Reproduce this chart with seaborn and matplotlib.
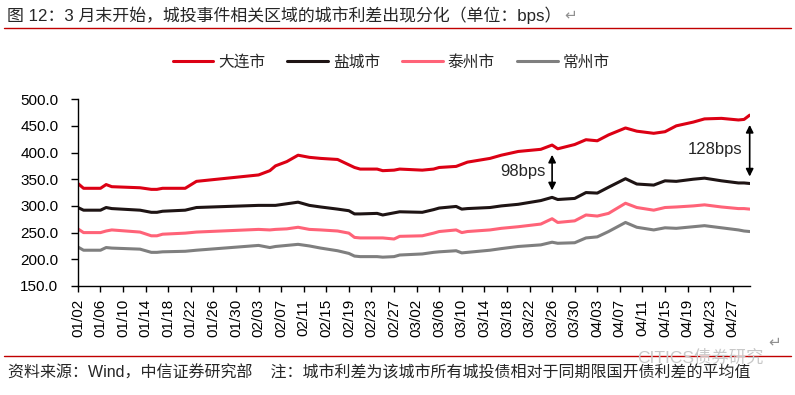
"""城投事件相关区域城市利差走势图"""

import pandas as pd
import matplotlib
matplotlib.use("Agg")
import matplotlib.pyplot as plt
from matplotlib.lines import Line2D
from matplotlib.ticker import FormatStrFormatter
import seaborn as sns

YEAR = "2020"
dates = ["01/02", "01/03", "01/06", "01/07", "01/08", "01/13", "01/15", "01/16", "01/17", "01/21", "01/23",
         "02/03", "02/05", "02/06", "02/08", "02/10", "02/12", "02/14", "02/17", "02/19", "02/20", "02/21",
         "02/24", "02/25", "02/27", "02/28",
         "03/03", "03/05", "03/06", "03/09", "03/10", "03/11", "03/15", "03/17", "03/20", "03/24", "03/26",
         "03/27", "03/30",
         "04/01", "04/03", "04/05", "04/08", "04/10", "04/13", "04/15", "04/17", "04/20", "04/22", "04/25",
         "04/28", "04/29", "04/30"]
dalian = [342, 333, 333, 340, 336, 334, 331, 331, 333, 333, 346,
          358, 366, 375, 383, 395, 391, 389, 387, 377, 372, 369, 369, 366, 367, 369,
          367, 369, 372, 374, 378, 382, 389, 395, 402, 406, 414, 407, 415,
          424, 422, 433, 446, 440, 436, 439, 450, 457, 463, 464, 461, 462, 470]
yancheng = [297, 292, 292, 297, 295, 292, 288, 288, 290, 292, 297,
            301, 301, 301, 304, 307, 301, 298, 294, 291, 285, 285, 286, 283, 287, 289,
            288, 293, 296, 299, 294, 295, 297, 300, 303, 310, 316, 312, 314,
            325, 324, 335, 351, 341, 339, 347, 346, 350, 352, 347, 343, 343, 342]
taizhou = [257, 250, 250, 253, 255, 251, 244, 244, 247, 249, 251,
           256, 255, 256, 257, 260, 256, 255, 253, 249, 241, 240, 240, 240, 238, 243,
           244, 249, 252, 255, 250, 252, 255, 258, 261, 266, 276, 269, 272,
           283, 281, 286, 305, 297, 292, 297, 298, 300, 302, 298, 295, 295, 294]
changzhou = [223, 217, 217, 222, 221, 219, 213, 213, 214, 215, 217,
             226, 222, 224, 226, 228, 225, 221, 216, 211, 206, 205, 205, 204, 205, 208,
             210, 213, 214, 216, 212, 213, 217, 220, 224, 227, 232, 230, 231,
             240, 242, 252, 269, 260, 255, 259, 258, 261, 263, 259, 255, 253, 252]

CITIES = ["大连市", "盐城市", "泰州市", "常州市"]
COLORS = ["#DC0014", "#1E1414", "#FF6378", "#7F7F7F"]
gap_dates = ["03/26", "04/30"]

TITLE = "图 12：3 月末开始，城投事件相关区域的城市利差出现分化（单位：bps）"
NOTE = "资料来源：Wind，中信证券研究部    注：城市利差为该城市所有城投债相对于同期限国开债利差的平均值"
RED = "#C00000"

sns.set_theme(style="white")
plt.rcParams["font.family"] = ["Liberation Sans", "Noto Sans CJK SC", "DejaVu Sans"]

x = pd.to_datetime([f"{YEAR}/{d}" for d in dates])
df = pd.DataFrame({"date": x, "大连市": dalian, "盐城市": yancheng, "泰州市": taizhou, "常州市": changzhou})
long = df.melt(id_vars="date", var_name="city", value_name="spread")

fig = plt.figure(figsize=(7.95, 3.95), dpi=100)
ax = fig.add_axes([0.098, 0.276, 0.845, 0.473])
sns.lineplot(data=long, x="date", y="spread", hue="city", hue_order=CITIES,
             palette=COLORS, lw=2.2, ax=ax, legend=False)

# 坐标轴
ax.set_ylim(150, 500)
ax.set_yticks(range(150, 501, 50))
ax.yaxis.set_major_formatter(FormatStrFormatter("%.1f"))
ax.set_xlim(x[0], x[-1])
xt = pd.date_range(x[0], x[-1], freq="4D")
ax.set_xticks(xt)
ax.set_xticklabels([d.strftime("%m/%d") for d in xt], rotation=90)
ax.set_xlabel("")
ax.set_ylabel("")
sns.despine(ax=ax)
for s in ["left", "bottom"]:
    ax.spines[s].set_color("black")
    ax.spines[s].set_linewidth(1)
ax.tick_params(axis="x", bottom=True, direction="out", length=4, width=1, color="black",
               labelsize=11, pad=5, labelcolor="black")
ax.tick_params(axis="y", left=True, direction="out", length=5, width=1, color="black",
               labelsize=11, pad=9, labelcolor="black")
ax.grid(False)

# 利差标注
for d in gap_dates:
    i = dates.index(d)
    hi, lo = dalian[i], yancheng[i]
    ax.annotate("", xy=(x[i], hi), xytext=(x[i], lo), annotation_clip=False,
                arrowprops=dict(arrowstyle="<|-|>", color="black", lw=1.2,
                                shrinkA=5, shrinkB=7, mutation_scale=11))
    ax.annotate(f"{hi - lo}bps", xy=(x[i], (hi + lo) / 2), xytext=(-5, 0),
                textcoords="offset points", ha="right", va="center", fontsize=12,
                annotation_clip=False)

# 图例
handles = [Line2D([], [], color=c, lw=2.2) for c in COLORS]
fig.legend(handles, CITIES, loc="center", bbox_to_anchor=(391 / 795, 1 - 62 / 395), ncol=4,
           frameon=False, fontsize=11.3, handlelength=2.6, handletextpad=0.3, columnspacing=1.4)

# 标题与注释
fig.text(7 / 795, 1 - 15 / 395, TITLE, fontsize=12.2, va="center", ha="left")
fig.text(564 / 795, 1 - 15 / 395, "↵", fontsize=11, va="center", color="#909090")
fig.add_artist(Line2D([0.005, 0.995], [1 - 28 / 395] * 2, color=RED, lw=1, transform=fig.transFigure))
fig.add_artist(Line2D([0.005, 0.995], [1 - 356 / 395] * 2, color=RED, lw=1, transform=fig.transFigure))
fig.text(8 / 795, 1 - 373 / 395, NOTE, fontsize=11.5, va="center", ha="left")
fig.text(637 / 795, 1 - 358 / 395, "CITICS债券研究", fontsize=12.5, va="center", color="#C8C8C8")
fig.text(768 / 795, 1 - 342 / 395, "↵", fontsize=11, va="center", color="#909090")

fig.savefig("out.png", dpi=100)
